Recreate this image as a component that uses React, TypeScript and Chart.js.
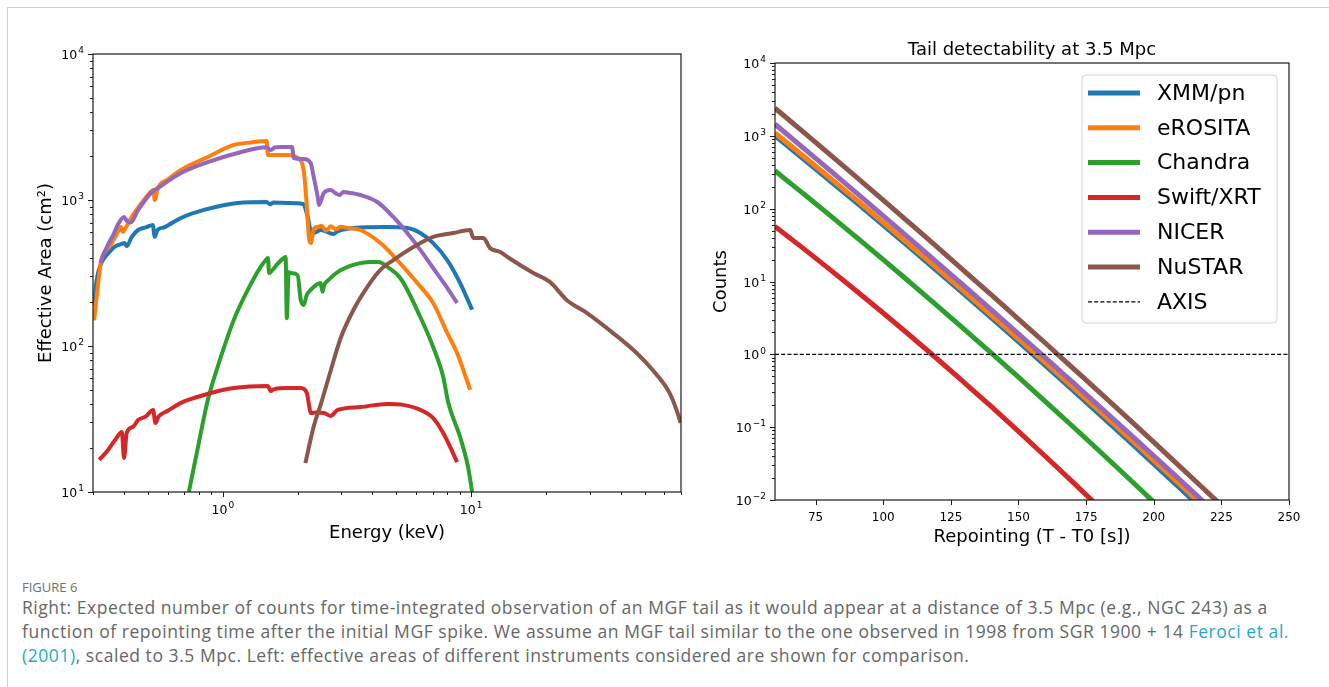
import React, { useEffect, useRef } from "react";
import { Chart, registerables } from "chart.js";

Chart.register(...registerables);

const FONT = "'DejaVu Sans', sans-serif";

// ---------------- Left panel: effective areas ----------------
const instrumentNames = ["XMM/pn", "eROSITA", "Chandra", "Swift/XRT", "NICER", "NuSTAR"];
const instrumentColors = ["#1f77b4", "#ff7f0e", "#2ca02c", "#d62728", "#9467bd", "#8c564b"];

const xmmEnergy = [0.303, 0.31, 0.324, 0.345, 0.365, 0.392, 0.402, 0.41, 0.43, 0.456, 0.49, 0.522, 0.532, 0.545, 0.58, 0.678, 0.839, 1.148, 1.5, 1.55, 1.6, 1.824, 2.1, 2.2, 2.26, 2.32, 2.48, 2.79, 2.9, 3.36, 4.6, 5.53, 6.24, 7.03, 8.01, 9.03, 10.09];
const xmmArea = [190, 280, 370, 430, 476, 500, 507, 484, 560, 623, 650, 675, 559, 620, 650, 753, 855, 954, 969, 935, 960, 955, 940, 760, 610, 594, 623, 585, 610, 643, 653, 643, 594, 507, 388, 270, 177];

const eroEnergy = [0.303, 0.314, 0.324, 0.35, 0.375, 0.389, 0.396, 0.405, 0.427, 0.47, 0.515, 0.525, 0.532, 0.548, 0.6, 0.678, 0.87, 1.107, 1.3, 1.5, 1.52, 1.824, 2.0, 2.115, 2.17, 2.22, 2.26, 2.33, 2.41, 2.5, 2.6, 2.72, 2.85, 2.98, 3.18, 3.58, 4.31, 5.04, 6.07, 7.03, 8.01, 8.78, 9.91];
const eroArea = [150, 260, 388, 480, 590, 653, 604, 640, 753, 950, 1150, 1169, 1000, 1208, 1380, 1604, 1971, 2383, 2480, 2536, 2033, 2033, 1939, 1604, 1000, 560, 507, 640, 653, 665, 615, 660, 630, 655, 643, 623, 507, 388, 270, 197, 123, 89.5, 50];

const chandraEnergy = [0.73, 0.794, 0.87, 0.982, 1.107, 1.26, 1.42, 1.49, 1.52, 1.535, 1.58, 1.66, 1.74, 1.79, 1.81, 1.84, 1.9, 2.0, 2.06, 2.115, 2.18, 2.256, 2.476, 2.52, 2.56, 2.64, 2.9, 3.36, 3.93, 4.23, 4.6, 5.2, 6.24, 7.03, 7.72, 8.09, 9.03, 9.72, 10.09];
const chandraArea = [10, 20.3, 42.7, 84.1, 151, 242, 348, 388, 401, 316, 330, 365, 395, 407, 155, 320, 315, 306, 206, 191, 225, 242, 270, 235, 262, 279, 321, 359, 376, 376, 348, 290, 158, 98.4, 61.3, 40.8, 23.8, 14.8, 10];

const swiftEnergy = [0.318, 0.345, 0.37, 0.392, 0.4, 0.41, 0.435, 0.456, 0.49, 0.524, 0.535, 0.55, 0.6, 0.678, 0.839, 1.107, 1.516, 1.56, 1.6, 1.824, 2.06, 2.18, 2.22, 2.256, 2.4, 2.55, 2.716, 2.9, 3.58, 4.6, 5.33, 6.24, 7.03, 7.72, 8.24, 8.78];
const swiftArea = [16.6, 19.4, 23, 25.8, 17.1, 25.4, 28, 31.1, 33, 36.5, 29.7, 32.7, 36, 40.8, 46.2, 51.5, 53.2, 49.2, 50.5, 51.5, 51.5, 47.6, 40, 34.8, 35, 34.8, 33.2, 36.5, 38.2, 40.1, 39.5, 36.5, 32.1, 25.4, 20.3, 16.0];

const nicerEnergy = [0.321, 0.34, 0.365, 0.38, 0.4, 0.41, 0.425, 0.456, 0.514, 0.548, 0.678, 0.87, 1.148, 1.5, 1.56, 1.62, 1.7, 1.9, 1.93, 2.115, 2.256, 2.33, 2.41, 2.44, 2.55, 2.716, 2.85, 2.95, 3.06, 3.267, 3.58, 4.19, 4.86, 5.53, 6.24, 7.03, 7.86, 8.78];
const nicerArea = [370, 470, 594, 690, 765, 720, 700, 855, 1117, 1208, 1531, 1820, 2098, 2300, 2200, 2290, 2310, 2310, 1939, 1909, 1791, 1400, 1050, 924, 1117, 1169, 1110, 1082, 1135, 1117, 1082, 969, 765, 594, 455, 342, 262, 197];

const nustarEnergy = [2.15, 2.32, 2.476, 2.716, 2.98, 3.36, 3.82, 4.31, 4.86, 5.85, 7.03, 8.47, 9.91, 10.2, 11.2, 11.9, 13.1, 14.0, 17.8, 20.8, 24.3, 29.3, 37.2, 46.4, 53.8, 63.0, 67.8, 69.7];
const nustarArea = [15.8, 27.9, 39.5, 67.4, 113, 177, 254, 332, 388, 476, 559, 594, 623, 550, 550, 469, 440, 407, 316, 274, 206, 168, 123, 89.5, 68.5, 47.6, 34.8, 29.7];

const leftXMajor = [1, 10];
const leftYMajor = [10, 100, 1000, 10000];

// ---------------- Right panel: counts vs repointing ----------------
const repointTimes = [60, 70, 80, 90, 100, 110, 120, 130, 140, 150, 160, 170, 180, 190, 200, 210, 220, 230];
const xmmCounts = [1000, 499, 247, 122, 59.5, 28.9, 13.9, 6.66, 3.16, 1.49, 0.700, 0.325, 0.150, 0.0690, 0.0314, 0.0142, 0.00638];
const eroCounts = [1096, 546, 270, 133, 64.8, 31.4, 15.1, 7.26, 3.45, 1.63, 0.767, 0.358, 0.166, 0.0766, 0.0351, 0.0160, 0.00722];
const chandraCounts = [331, 166, 82.8, 40.8, 20.0, 9.66, 4.64, 2.20, 1.04, 0.485, 0.224, 0.103, 0.0467, 0.0210, 0.00937];
const swiftCounts = [57.0, 29.4, 14.9, 7.48, 3.69, 1.80, 0.863, 0.408, 0.191, 0.0875, 0.0396, 0.0177, 0.00782];
const nicerCounts = [1445, 706, 343, 166, 79.8, 38.2, 18.2, 8.63, 4.07, 1.91, 0.892, 0.414, 0.192, 0.0882, 0.0404, 0.0184, 0.00834];
const nustarCounts = [2399, 1169, 566, 273, 131, 62.4, 29.6, 13.9, 6.53, 3.05, 1.42, 0.653, 0.300, 0.137, 0.0622, 0.0281, 0.0126, 0.00564];
const axisTimes = [60, 250];
const axisCounts = [1, 1];

const rightXTicks = [75, 100, 125, 150, 175, 200, 225, 250];
const rightYMajor = [0.01, 0.1, 1, 10, 100, 1000, 10000];

// ---------------- helpers ----------------
function zip(xs: number[], ys: number[]) {
  return ys.map((y, i) => ({ x: xs[i], y }));
}

function minorLogTicks(lo: number, hi: number) {
  const out: number[] = [];
  for (let d = Math.floor(Math.log10(lo)); d <= Math.ceil(Math.log10(hi)); d++) {
    for (let m = 2; m <= 9; m++) {
      const v = m * Math.pow(10, d);
      if (v >= lo * 0.999 && v <= hi * 1.001) out.push(v);
    }
  }
  return out;
}

function drawPow(ctx: CanvasRenderingContext2D, value: number, x: number, baseline: number, align: "right" | "center") {
  const exp = Math.round(Math.log10(value));
  const base = "10";
  const e = exp < 0 ? "\u2212" + Math.abs(exp) : String(exp);
  ctx.font = `12.5px ${FONT}`;
  const wb = ctx.measureText(base).width;
  ctx.font = `9px ${FONT}`;
  const we = ctx.measureText(e).width;
  const gap = 1;
  const total = wb + we + gap;
  const x0 = align === "right" ? x - total : x - total / 2;
  ctx.textAlign = "left";
  ctx.textBaseline = "alphabetic";
  ctx.fillStyle = "#000";
  ctx.font = `12.5px ${FONT}`;
  ctx.fillText(base, x0, baseline);
  ctx.font = `9px ${FONT}`;
  ctx.fillText(e, x0 + wb + gap, baseline - 5.8);
}

type DecorSpec = {
  xLog: boolean;
  xMajor: number[];
  xMinor: number[];
  yMajor: number[];
  yMinor: number[];
  xTitle: string;
  xTitleBaseline: number;
  yTitle: string;
  yTitleX: number;
  title?: string;
  legend?: boolean;
};

function makeDecor(spec: DecorSpec) {
  return {
    id: "decor",
    afterDatasetsDraw(chart: any) {
      const { ctx, chartArea: a, scales } = chart;
      const xs = scales.x;
      const ys = scales.y;
      ctx.save();
      ctx.strokeStyle = "#1a1a1a";
      ctx.lineWidth = 1.2;
      ctx.strokeRect(a.left, a.top, a.right - a.left, a.bottom - a.top);
      ctx.lineWidth = 1;
      ctx.beginPath();
      spec.yMajor.forEach((v) => {
        const p = Math.round(ys.getPixelForValue(v)) + 0.5;
        ctx.moveTo(a.left, p);
        ctx.lineTo(a.left - 5, p);
      });
      spec.yMinor.forEach((v) => {
        const p = Math.round(ys.getPixelForValue(v)) + 0.5;
        ctx.moveTo(a.left, p);
        ctx.lineTo(a.left - 3, p);
      });
      spec.xMajor.forEach((v) => {
        const p = Math.round(xs.getPixelForValue(v)) + 0.5;
        ctx.moveTo(p, a.bottom);
        ctx.lineTo(p, a.bottom + 5);
      });
      spec.xMinor.forEach((v) => {
        const p = Math.round(xs.getPixelForValue(v)) + 0.5;
        ctx.moveTo(p, a.bottom);
        ctx.lineTo(p, a.bottom + 3);
      });
      ctx.stroke();
      spec.yMajor.forEach((v) => {
        drawPow(ctx, v, a.left - 9, ys.getPixelForValue(v) + 5, "right");
      });
      spec.xMajor.forEach((v) => {
        const px = xs.getPixelForValue(v);
        if (spec.xLog) {
          drawPow(ctx, v, px, a.bottom + 22, "center");
        } else {
          ctx.font = `12px ${FONT}`;
          ctx.textAlign = "center";
          ctx.textBaseline = "alphabetic";
          ctx.fillStyle = "#000";
          ctx.fillText(String(v), px, a.bottom + 21);
        }
      });
      ctx.fillStyle = "#000";
      ctx.font = `18px ${FONT}`;
      ctx.textAlign = "center";
      ctx.textBaseline = "alphabetic";
      ctx.fillText(spec.xTitle, (a.left + a.right) / 2, a.bottom + spec.xTitleBaseline);
      ctx.save();
      ctx.translate(spec.yTitleX, (a.top + a.bottom) / 2);
      ctx.rotate(-Math.PI / 2);
      ctx.fillText(spec.yTitle, 0, 0);
      ctx.restore();
      if (spec.title) {
        ctx.font = `18px ${FONT}`;
        ctx.fillText(spec.title, (a.left + a.right) / 2, a.top - 8);
      }
      ctx.restore();
    },
    afterDraw(chart: any) {
      if (!spec.legend) return;
      const { ctx } = chart;
      const bx = 382, by = 75, bw = 195, bh = 248;
      ctx.save();
      ctx.beginPath();
      const r = 4;
      ctx.moveTo(bx + r, by);
      ctx.arcTo(bx + bw, by, bx + bw, by + bh, r);
      ctx.arcTo(bx + bw, by + bh, bx, by + bh, r);
      ctx.arcTo(bx, by + bh, bx, by, r);
      ctx.arcTo(bx, by, bx + bw, by, r);
      ctx.closePath();
      ctx.fillStyle = "rgba(255,255,255,0.85)";
      ctx.fill();
      ctx.strokeStyle = "#d4d4d4";
      ctx.lineWidth = 1;
      ctx.stroke();
      const items = chart.data.datasets;
      items.forEach((ds: any, i: number) => {
        const cy = 93 + i * 34.8;
        ctx.beginPath();
        ctx.strokeStyle = ds.borderColor;
        ctx.lineWidth = ds.label === "AXIS" ? 1.2 : 5;
        ctx.setLineDash(ds.label === "AXIS" ? [4, 2.2] : []);
        ctx.moveTo(388, cy);
        ctx.lineTo(440, cy);
        ctx.stroke();
        ctx.setLineDash([]);
        ctx.fillStyle = "#000";
        ctx.font = `22px ${FONT}`;
        ctx.textAlign = "left";
        ctx.textBaseline = "middle";
        ctx.fillText(ds.label, 457, cy + 1);
      });
      ctx.restore();
    },
  };
}

function LeftChart() {
  const ref = useRef<HTMLCanvasElement | null>(null);
  useEffect(() => {
    if (!ref.current) return;
    const energies = [xmmEnergy, eroEnergy, chandraEnergy, swiftEnergy, nicerEnergy, nustarEnergy];
    const areas = [xmmArea, eroArea, chandraArea, swiftArea, nicerArea, nustarArea];
    const datasets = instrumentNames.map((name, i) => ({
      label: name,
      data: zip(energies[i], areas[i]),
      borderColor: instrumentColors[i],
      backgroundColor: instrumentColors[i],
      borderWidth: 4,
      pointRadius: 0,
      cubicInterpolationMode: "monotone" as const,
      fill: false,
      clip: 0,
      order: 10 - i,
      borderJoinStyle: "round" as const,
      borderCapStyle: "butt" as const,
    }));
    const chart = new Chart(ref.current, {
      type: "line",
      data: { datasets },
      options: {
        responsive: false,
        animation: false,
        events: [],
        layout: { padding: { left: 0, right: 19, top: 54, bottom: 0 } },
        plugins: { legend: { display: false }, tooltip: { enabled: false }, title: { display: false } },
        scales: {
          x: {
            type: "logarithmic",
            min: 0.3,
            max: 70,
            grid: { display: false, drawTicks: false },
            border: { display: false },
            ticks: { display: false },
            afterFit: (s: any) => { s.height = 68; },
          },
          y: {
            type: "logarithmic",
            min: 10,
            max: 10000,
            grid: { display: false, drawTicks: false },
            border: { display: false },
            ticks: { display: false },
            afterFit: (s: any) => { s.width = 93; },
          },
        },
      },
      plugins: [
        makeDecor({
          xLog: true,
          xMajor: leftXMajor,
          xMinor: minorLogTicks(0.3, 70),
          yMajor: leftYMajor,
          yMinor: minorLogTicks(10, 10000),
          xTitle: "Energy (keV)",
          xTitleBaseline: 46,
          yTitle: "Effective Area (cm\u00b2)",
          yTitleX: 51,
        }),
      ],
    } as any);
    return () => chart.destroy();
  }, []);
  return <canvas ref={ref} width={700} height={560} style={{ position: "absolute", left: 0, top: 0, width: 700, height: 560 }} />;
}

function RightChart() {
  const ref = useRef<HTMLCanvasElement | null>(null);
  useEffect(() => {
    if (!ref.current) return;
    const counts = [xmmCounts, eroCounts, chandraCounts, swiftCounts, nicerCounts, nustarCounts];
    const datasets: any[] = instrumentNames.map((name, i) => ({
      label: name,
      data: zip(repointTimes, counts[i]),
      borderColor: instrumentColors[i],
      backgroundColor: instrumentColors[i],
      borderWidth: 5,
      pointRadius: 0,
      cubicInterpolationMode: "monotone" as const,
      fill: false,
      clip: 0,
      order: 10 - i,
    }));
    datasets.push({
      label: "AXIS",
      data: zip(axisTimes, axisCounts),
      borderColor: "#000",
      backgroundColor: "#000",
      borderWidth: 1.2,
      borderDash: [4, 2.2],
      pointRadius: 0,
      fill: false,
      clip: 0,
      order: 0,
    });
    const chart = new Chart(ref.current, {
      type: "line",
      data: { datasets },
      options: {
        responsive: false,
        animation: false,
        events: [],
        layout: { padding: { left: 0, right: 40, top: 63, bottom: 0 } },
        plugins: { legend: { display: false }, tooltip: { enabled: false }, title: { display: false } },
        scales: {
          x: {
            type: "linear",
            min: 60,
            max: 250,
            grid: { display: false, drawTicks: false },
            border: { display: false },
            ticks: { display: false },
            afterFit: (s: any) => { s.height = 60; },
          },
          y: {
            type: "logarithmic",
            min: 0.01,
            max: 10000,
            grid: { display: false, drawTicks: false },
            border: { display: false },
            ticks: { display: false },
            afterFit: (s: any) => { s.width = 75; },
          },
        },
      },
      plugins: [
        makeDecor({
          xLog: false,
          xMajor: rightXTicks,
          xMinor: [],
          yMajor: rightYMajor,
          yMinor: minorLogTicks(0.01, 10000),
          xTitle: "Repointing (T - T0 [s])",
          xTitleBaseline: 42,
          yTitle: "Counts",
          yTitleX: 26,
          title: "Tail detectability at 3.5 Mpc",
          legend: true,
        }),
      ],
    } as any);
    return () => chart.destroy();
  }, []);
  return <canvas ref={ref} width={629} height={560} style={{ position: "absolute", left: 700, top: 0, width: 629, height: 560 }} />;
}

const linkColor = "#1eaac6";
const textColor = "#666666";
const captionFont = "'Open Sans', Lato, sans-serif";

export default function App() {
  return (
    <div style={{ position: "absolute", left: 0, top: 0, width: 1329, height: 687, background: "#fff", overflow: "hidden" }}>
      <div style={{ position: "absolute", left: 7, top: 7, width: 1340, height: 700, borderTop: "1px solid #cfcfcf", borderLeft: "1px solid #cfcfcf" }} />
      <LeftChart />
      <RightChart />
      <div style={{ position: "absolute", left: 22, top: 578, fontFamily: captionFont, fontSize: 13, lineHeight: "18px", color: "#707070", whiteSpace: "nowrap" }}>
        FIGURE 6
      </div>
      <div style={{ position: "absolute", left: 22, top: 595, fontFamily: captionFont, fontSize: 17.5, letterSpacing: "0.55px", lineHeight: "24px", color: textColor, whiteSpace: "nowrap" }}>
        <div>Right: Expected number of counts for time-integrated observation of an MGF tail as it would appear at a distance of 3.5 Mpc (e.g., NGC 243) as a</div>
        <div>
          function of repointing time after the initial MGF spike. We assume an MGF tail similar to the one observed in 1998 from SGR 1900 + 14{" "}
          <span style={{ color: linkColor }}>Feroci et al.</span>
        </div>
        <div>
          <span style={{ color: linkColor }}>(2001)</span>, scaled to 3.5 Mpc. Left: effective areas of different instruments considered are shown for comparison.
        </div>
      </div>
    </div>
  );
}
